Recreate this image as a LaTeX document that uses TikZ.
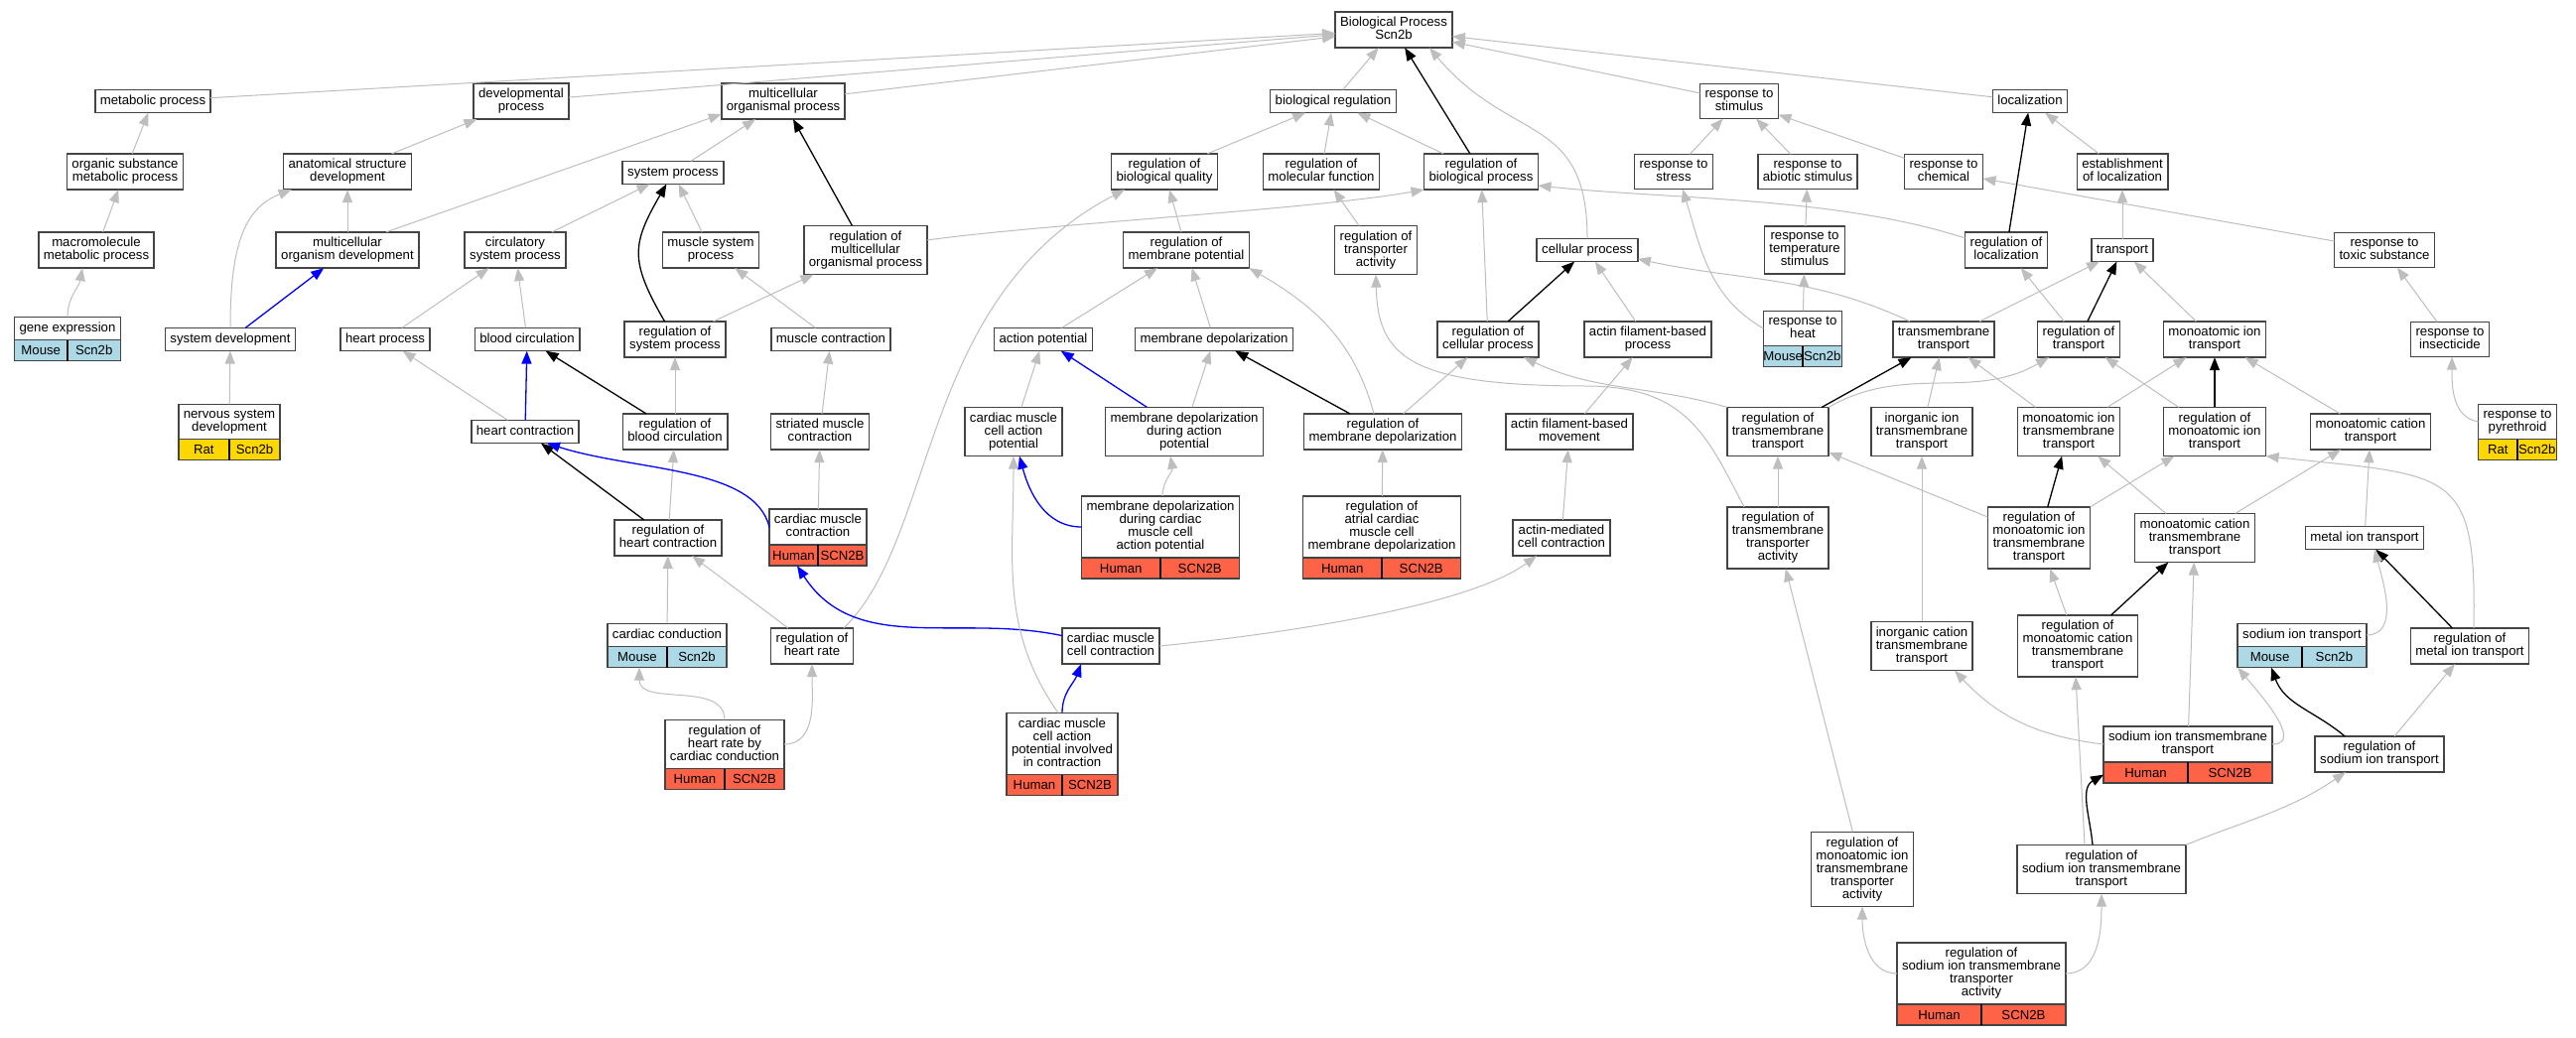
\documentclass[tikz,border=0pt]{standalone}
\usepackage{fontspec}
\setmainfont{Liberation Sans}
\usetikzlibrary{arrows.meta,calc}

\definecolor{edgegray}{RGB}{190,190,190}
\definecolor{boxline}{RGB}{68,68,68}
\definecolor{mouse}{RGB}{173,216,230}
\definecolor{rat}{RGB}{255,215,0}
\definecolor{human}{RGB}{255,99,71}

\newcommand{\gostrut}{\rule[-3.2pt]{0pt}{12.5pt}}
% species row under an annotated term
\newcommand{\generow}[4]{%
  \path let \p1=($(#1.east)-(#1.west)$) in
    node[rowbox,fill=#2,minimum width=\x1,anchor=north] (#1-row) at (#1.south) {};
  \draw[line width=1.2pt,black] (#1-row.north) -- (#1-row.south);
  \node[cell] at ($(#1-row.west)!0.25!(#1-row.east)$) {#3};
  \node[cell] at ($(#1-row.west)!0.75!(#1-row.east)$) {#4};
}

\tikzset{
  term/.style={draw=boxline, line width=1.6pt, fill=white, align=center,
    inner xsep=5pt, inner ysep=5.25pt, outer sep=0pt,
    font={\fontsize{13.2}{13}\selectfont\lineskiplimit=-20pt},
    execute at begin node=\gostrut, execute at end node=\gostrut},
  rowbox/.style={draw=boxline, line width=1.6pt, minimum height=21pt, inner sep=0pt, outer sep=0pt},
  cell/.style={font={\fontsize{13.2}{13}\selectfont}, inner sep=0pt},
  isa/.style={-{Triangle[length=13pt,width=10pt]}, draw=edgegray, line width=1pt},
  isblack/.style={isa, draw=black, line width=1.3pt},
  isblue/.style={isa, draw=blue, line width=1.3pt},
}

\begin{document}
\begin{tikzpicture}[x=1pt,y=1pt]
	\useasboundingbox (0,0) rectangle (2595,-1045);
	\fill[white] (0,0) rectangle (2595,-1045);

	% Draw nodes
	\node[term] (bp) at (1404,-30) {Biological Process\\Scn2b};

	\node[term] (metab) at (154,-102) {metabolic process};
	\node[term] (devel) at (525,-102) {developmental\\process};
	\node[term] (mcop) at (789,-102) {multicellular\\organismal process};
	\node[term] (bioreg) at (1343,-102) {biological regulation};
	\node[term] (resstim) at (1752,-102) {response to\\stimulus};
	\node[term] (local) at (2045,-102) {localization};

	\node[term] (orgsub) at (126,-173) {organic substance\\metabolic process};
	\node[term] (anatdev) at (350,-173) {anatomical structure\\development};
	\node[term] (sysproc) at (678,-174) {system process};
	\node[term] (rbq) at (1173,-173) {regulation of\\biological quality};
	\node[term] (rmf) at (1331,-173) {regulation of\\molecular function};
	\node[term] (rbp) at (1492,-173) {regulation of\\biological process};
	\node[term] (stress) at (1686,-173) {response to\\stress};
	\node[term] (abiotic) at (1821,-173) {response to\\abiotic stimulus};
	\node[term] (chem) at (1958,-173) {response to\\chemical};
	\node[term] (estloc) at (2138,-173) {establishment\\of localization};

	\node[term] (macro) at (97,-252) {macromolecule\\metabolic process};
	\node[term] (mcodev) at (350,-252) {multicellular\\organism development};
	\node[term] (circ) at (519,-252) {circulatory\\system process};
	\node[term] (muscsys) at (716,-252) {muscle system\\process};
	\node[term] (rmcop) at (872,-252) {regulation of\\multicellular\\organismal process};
	\node[term] (rmp) at (1195,-252) {regulation of\\membrane potential};
	\node[term] (rta) at (1386,-252) {regulation of\\transporter\\activity};
	\node[term] (cellproc) at (1599,-252) {cellular process};
	\node[term] (temp) at (1818,-252) {response to\\temperature\\stimulus};
	\node[term] (rloc) at (2021,-252) {regulation of\\localization};
	\node[term] (transp) at (2138,-252) {transport};
	\node[term] (toxic) at (2402,-252) {response to\\toxic substance};

	\node[term] (geneexp) at (68,-331) {gene expression};
	\node[term] (sysdev) at (232,-342) {system development};
	\node[term] (heartproc) at (388,-342) {heart process};
	\node[term] (bloodcirc) at (531,-342) {blood circulation};
	\node[term] (rsp) at (680,-342) {regulation of\\system process};
	\node[term] (musccontr) at (837,-342) {muscle contraction};
	\node[term] (actpot) at (1051,-342) {action potential};
	\node[term] (mdepol) at (1223,-342) {membrane depolarization};
	\node[term] (rcp) at (1499,-342) {regulation of\\cellular process};
	\node[term] (actinproc) at (1660,-342) {actin filament-based\\process};
	\node[term] (heat) at (1816,-331) {response to\\heat};
	\node[term] (tmt) at (1958,-342) {transmembrane\\transport};
	\node[term] (rtransp) at (2094,-342) {regulation of\\transport};
	\node[term] (mit) at (2231,-342) {monoatomic ion\\transport};
	\node[term] (insect) at (2468,-342) {response to\\insecticide};

	\node[term] (nervdev) at (231,-425) {nervous system\\development};
	\node[term] (heartcontr) at (529,-435) {heart contraction};
	\node[term] (rbc) at (680,-435) {regulation of\\blood circulation};
	\node[term] (striated) at (826,-435) {striated muscle\\contraction};
	\node[term] (cmcap) at (1021,-435) {cardiac muscle\\cell action\\potential};
	\node[term] (mddap) at (1193,-435) {membrane depolarization\\during action\\potential};
	\node[term] (rmd) at (1393,-435) {regulation of\\membrane depolarization};
	\node[term] (actinmov) at (1581,-435) {actin filament-based\\movement};
	\node[term] (rtmt) at (1791,-435) {regulation of\\transmembrane\\transport};
	\node[term] (iitt) at (1936,-435) {inorganic ion\\transmembrane\\transport};
	\node[term] (mitt) at (2084,-435) {monoatomic ion\\transmembrane\\transport};
	\node[term] (rmit) at (2231,-435) {regulation of\\monoatomic ion\\transport};
	\node[term] (mct) at (2388,-435) {monoatomic cation\\transport};
	\node[term] (pyreth) at (2536,-425) {response to\\pyrethroid};

	\node[term] (rhc) at (673,-542) {regulation of\\heart contraction};
	\node[term] (cmc) at (824,-531) {cardiac muscle\\contraction};
	\node[term] (mdcmc) at (1169,-531) {membrane depolarization\\during cardiac\\muscle cell\\action potential};
	\node[term] (ratrial) at (1392,-531) {regulation of\\atrial cardiac\\muscle cell\\membrane depolarization};
	\node[term] (actinmed) at (1573,-542) {actin-mediated\\cell contraction};
	\node[term] (rtmta) at (1791,-542) {regulation of\\transmembrane\\transporter\\activity};
	\node[term] (rmitt) at (2054,-542) {regulation of\\monoatomic ion\\transmembrane\\transport};
	\node[term] (mctt) at (2211,-542) {monoatomic cation\\transmembrane\\transport};
	\node[term] (metalit) at (2382,-542) {metal ion transport};

	\node[term] (cardcond) at (672,-640) {cardiac conduction};
	\node[term] (rhr) at (818,-651) {regulation of\\heart rate};
	\node[term] (cmcc) at (1119,-651) {cardiac muscle\\cell contraction};
	\node[term] (ictt) at (1936,-651) {inorganic cation\\transmembrane\\transport};
	\node[term] (rmctt) at (2093,-651) {regulation of\\monoatomic cation\\transmembrane\\transport};
	\node[term] (sodit) at (2319,-640) {sodium ion transport};
	\node[term] (rmetal) at (2488,-651) {regulation of\\metal ion transport};

	\node[term] (rhrcc) at (730,-750) {regulation of\\heart rate by\\cardiac conduction};
	\node[term] (cmcapic) at (1070,-749.5) {cardiac muscle\\cell action\\potential involved\\in contraction};
	\node[term] (sitt) at (2204,-750) {sodium ion transmembrane\\transport};
	\node[term] (rsit) at (2397,-760) {regulation of\\sodium ion transport};

	\node[term] (rmitta) at (1876,-876) {regulation of\\monoatomic ion\\transmembrane\\transporter\\activity};
	\node[term] (rsitt) at (2117,-876) {regulation of\\sodium ion transmembrane\\transport};

	\node[term] (rsitta) at (1996,-981) {regulation of\\sodium ion transmembrane\\transporter\\activity};

	% Species rows
	\generow{geneexp}{mouse}{Mouse}{Scn2b}
	\generow{heat}{mouse}{Mouse}{Scn2b}
	\generow{cardcond}{mouse}{Mouse}{Scn2b}
	\generow{sodit}{mouse}{Mouse}{Scn2b}
	\generow{nervdev}{rat}{Rat}{Scn2b}
	\generow{pyreth}{rat}{Rat}{Scn2b}
	\generow{cmc}{human}{Human}{SCN2B}
	\generow{mdcmc}{human}{Human}{SCN2B}
	\generow{ratrial}{human}{Human}{SCN2B}
	\generow{rhrcc}{human}{Human}{SCN2B}
	\generow{cmcapic}{human}{Human}{SCN2B}
	\generow{sitt}{human}{Human}{SCN2B}
	\generow{rsitta}{human}{Human}{SCN2B}

	% Draw arcs, left part
	\draw[isa] (metab) -- (bp);
	\draw[isa] (devel) -- (bp);
	\draw[isa] (mcop) -- (bp);
	\draw[isa] (orgsub) -- (metab);
	\draw[isa] (macro) -- (orgsub);
	\draw[isa,out=90,in=-100] (geneexp) to ([xshift=-14pt]macro.south);
	\draw[isa] (anatdev) -- (devel);
	\draw[isa] (mcodev) -- (anatdev);
	\draw[isa] ([xshift=39pt]mcodev.north) -- ([yshift=-13pt]mcop.west);
	\draw[isa] (sysdev.north) .. controls (232,-250) and (245,-210) .. ([xshift=8pt]anatdev.south west);
	\draw[isblue] (sysdev) -- (mcodev);
	\draw[isa] (nervdev) -- (sysdev);
	\draw[isa] (sysproc) -- (mcop);
	\draw[isa] (circ) -- (sysproc);
	\draw[isa] (muscsys) -- (sysproc);
	\draw[isblack,out=120,in=-120,looseness=1.3] (rsp) to (sysproc);
	\draw[isblack] (rmcop) -- (mcop);
	\draw[isa] (rsp) -- (rmcop);
	\draw[isa,out=8,in=-170,looseness=0.6] ([yshift=10pt]rmcop.east) to (rbp.south west);
	\draw[isa] (musccontr) -- (muscsys);
	\draw[isa] (heartproc) -- (circ);
	\draw[isa] (bloodcirc) -- (circ);
	\draw[isa] (heartcontr) -- (heartproc);
	\draw[isblue] (heartcontr) -- (bloodcirc);
	\draw[isblack] (rbc) -- (bloodcirc);
	\draw[isa] (rbc) -- (rsp);
	\draw[isblack] (rhc) -- ([xshift=16pt]heartcontr.south);
	\draw[isa] (rhc) -- (rbc);
	\draw[isblue] (cmc.west) .. controls (760,-470) and (640,-475) .. ([xshift=22pt]heartcontr.south);
	\draw[isa] (cmc) -- (striated);
	\draw[isa] (striated) -- (musccontr);
	\draw[isa] (cardcond) -- (rhc);
	\draw[isa] (rhr) -- (rhc);
	\draw[isa] ([xshift=32pt]rhr.north) .. controls (945,-540) and (925,-300) .. ([xshift=-40pt]rbq.south);
	\draw[isa,out=90,in=-90] (rhrcc) to ([xshift=-28pt]cardcond-row.south);
	\draw[isa,out=0,in=-90] (rhrcc) to (rhr);
	\draw[isblue,out=168,in=-57] (cmcc) to ([xshift=-21pt]cmc-row.south);
	\draw[isa] (cmcc.east) .. controls (1300,-638) and (1480,-610) .. ([xshift=-25pt]actinmed.south);
	\draw[isblue,out=90,in=-110] (cmcapic) to ([xshift=-30pt]cmcc.south);
	\draw[isa,out=125,in=-90] ([xshift=-4pt]cmcapic.north) to (cmcap.south);

	% Draw arcs, middle part
	\draw[isa] (bioreg) -- (bp);
	\draw[isblack] (rbp) -- (bp);
	\draw[isa,out=90,in=-50,looseness=1.3] (cellproc) to ([xshift=36pt]bp.south);
	\draw[isa] (rbq) -- (bioreg);
	\draw[isa] (rmf) -- (bioreg);
	\draw[isa] (rbp) -- (bioreg);
	\draw[isa] (rmp) -- (rbq);
	\draw[isa] (rta) -- (rmf);
	\draw[isa] (actpot) -- (rmp);
	\draw[isa] (mdepol) -- (rmp);
	\draw[isa] (cmcap) -- (actpot);
	\draw[isblue] (mddap) -- (actpot);
	\draw[isa] (mddap) -- (mdepol);
	\draw[isblue,out=180,in=-75] (mdcmc) to ([xshift=6pt]cmcap.south);
	\draw[isa,out=90,in=-80] ([xshift=2pt]mdcmc.north) to ([xshift=-14pt]mddap.south);
	\draw[isblack] (rmd) -- (mdepol);
	\draw[isa] (rmd) -- (rcp);
	\draw[isa,out=105,in=-30] ([xshift=-9pt]rmd.north) to (rmp.south east);
	\draw[isa] (ratrial) -- (rmd);
	\draw[isa] (actinmed) -- (actinmov);
	\draw[isa] (actinmov) -- (actinproc);
	\draw[isa] (actinproc) -- (cellproc);
	\draw[isblack] (rcp) -- (cellproc);
	\draw[isa] (rcp) -- (rbp);

	% Draw arcs, right part
	\draw[isa] (resstim) -- (bp);
	\draw[isa] (local) -- (bp);
	\draw[isa] (chem) -- (resstim);
	\draw[isa] (abiotic) -- (resstim);
	\draw[isa] (stress) -- (resstim);
	\draw[isa] (temp) -- (abiotic);
	\draw[isa] (heat) -- (temp);
	\draw[isa,out=150,in=-73] (heat.west) to ([xshift=9pt]stress.south);
	\draw[isa] (toxic) -- (chem);
	\draw[isa] (insect) -- (toxic);
	\draw[isa,out=170,in=-90] (pyreth.west) to ([xshift=2pt]insect.south);
	\draw[isa] (estloc) -- (local);
	\draw[isa] (transp) -- (estloc);
	\draw[isblack] (rloc) -- (local);
	\draw[isa,out=162,in=-6,looseness=0.8] ([yshift=12pt]rloc.west) to ([yshift=-14pt]rbp.east);
	\draw[isa] (tmt) -- (transp);
	\draw[isblack] (rtransp) -- (transp);
	\draw[isa] (mit) -- (transp);
	\draw[isa] (rtransp) -- (rloc);
	\draw[isa,out=155,in=-12] ([xshift=-34pt]tmt.north) to ([yshift=-9pt]cellproc.east);
	\draw[isa,out=164,in=-25] (rtmt.north west) to ([xshift=36pt]rcp.south);
	\draw[isblack] (rtmt) -- (tmt);
	\draw[isa,out=30,in=-150] (rtmt.north east) to ([xshift=-30pt]rtransp.south);
	\draw[isa] (iitt) -- (tmt);
	\draw[isa] (mitt) -- (tmt);
	\draw[isa] (mitt) -- (mit);
	\draw[isa] (rmit) -- (rtransp);
	\draw[isblack] (rmit) -- (mit);
	\draw[isa] (mct) -- (mit);
	\draw[isa] (rtmta) -- (rtmt);
	\draw[isa] ([xshift=-34pt]rtmta.north) .. controls (1720,-440) and (1700,-390) .. (1600,-389) .. controls (1420,-389) and (1388,-360) .. (rta.south);
	\draw[isa] (rmitt) -- (rtmt);
	\draw[isblack] (rmitt) -- (mitt);
	\draw[isa] (rmitt) -- (rmit);
	\draw[isa] (mctt) -- (mitt);
	\draw[isa] (mctt) -- (mct);
	\draw[isa] (metalit) -- (mct);
	\draw[isa] ([xshift=4pt]rmetal.north) .. controls (2495,-470) and (2470,-480) .. (rmit.south east);
	\draw[isblack] (rmetal) -- (metalit);
	\draw[isa,out=0,in=-75] (sodit.east) to ([xshift=10pt]metalit.south);
	\draw[isa] (ictt) -- (iitt);
	\draw[isa] (rmctt) -- (rmitt);
	\draw[isblack] (rmctt) -- (mctt);
	\draw[isblack,out=140,in=-70] ([xshift=-35pt]rsit.north) to ([xshift=-31pt]sodit-row.south);
	\draw[isa] (rsit) -- (rmetal);
	\draw[isa,out=173,in=-47] (sitt.west) to ([xshift=33pt]ictt.south);
	\draw[isa] (sitt) -- (mctt);
	\draw[isa,out=0,in=-50] (sitt.east) to (sodit-row.south west);
	\draw[isblack,out=95,in=-150] ([xshift=-9pt]rsitt.north) to ([yshift=-2pt]sitt-row.west);
	\draw[isa] ([xshift=-17pt]rsitt.north) -- ([xshift=-2pt]rmctt.south);
	\draw[isa,out=22,in=-146] (rsitt.north east) to ([xshift=-34pt]rsit.south);
	\draw[isa] (rmitta) -- (rtmta);
	\draw[isa,out=180,in=-90] (rsitta) to (rmitta);
	\draw[isa,out=0,in=-90] (rsitta) to (rsitt);

\end{tikzpicture}
\end{document}
